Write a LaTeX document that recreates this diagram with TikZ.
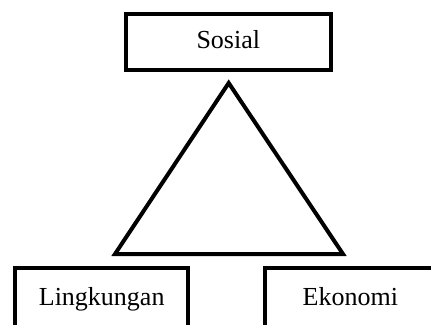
\documentclass[tikz,border=0pt]{standalone}
\usepackage{fontspec}
\setmainfont{Liberation Serif}

\begin{document}
\begin{tikzpicture}[x=1pt,y=-1pt,
  box/.style={draw=black,line width=4pt,inner sep=0pt,
    text height=18pt,text depth=6pt,font=\fontsize{26}{30}\selectfont}]
\useasboundingbox (0,0) rectangle (431,324);
\clip (0,0) rectangle (431,324);

% Draw the top box
\node[box,minimum width=205pt,minimum height=56pt] (sosial) at (228.3,42) {Sosial};

% Draw the triangle
\coordinate (apex) at (228.7,83);
\coordinate (left) at (115,254);
\coordinate (right) at (343,254);
\draw[line width=4pt] (apex) -- (left) -- (right) -- cycle;

% Draw the bottom boxes
\node[box,minimum width=173.3pt,minimum height=62.4pt] (lingkungan) at (101.7,299.5) {Lingkungan};
\node[box,minimum width=170.6pt,minimum height=62.4pt] (ekonomi) at (350.3,299.5) {Ekonomi};

\end{tikzpicture}
\end{document}
